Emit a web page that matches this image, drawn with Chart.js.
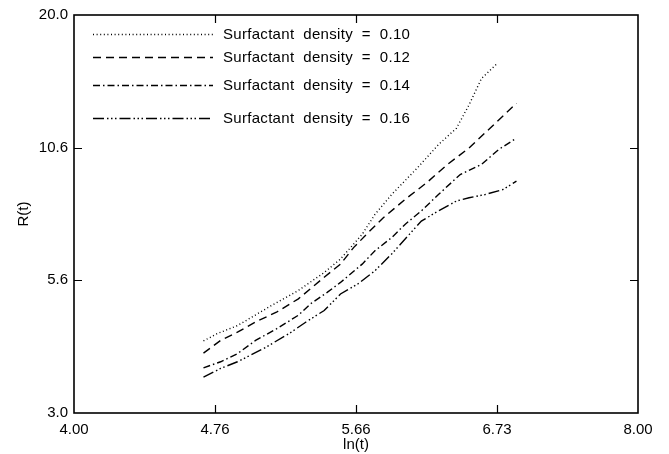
<!DOCTYPE html>
<html>
<head>
<meta charset="utf-8">
<script src="https://cdn.jsdelivr.net/npm/chart.js@4"></script>
<style>
  body { margin: 0; background: #fff; }
  #wrap { width: 669px; height: 454px; }
</style>
</head>
<body>
<div id="wrap"><canvas id="growthChart" width="669" height="454"></canvas></div>
<script>
// ln(t) values and R(t) values
const lnt10 = [4.69, 4.77, 4.89, 5.10, 5.27, 5.44, 5.55, 5.70, 5.79, 5.91, 6.10, 6.26, 6.40, 6.50, 6.60, 6.73];
const r10   = [4.23, 4.38, 4.55, 5.01, 5.38, 5.86, 6.25, 7.03, 7.73, 8.50, 9.65, 10.78, 11.66, 13.03, 14.78, 15.88];

const lnt12 = [4.69, 4.79, 4.89, 5.00, 5.13, 5.27, 5.44, 5.55, 5.64, 5.73, 5.85, 6.01, 6.17, 6.33, 6.50, 6.67, 6.89];
const r12   = [3.99, 4.24, 4.41, 4.63, 4.85, 5.17, 5.73, 6.10, 6.60, 7.03, 7.61, 8.31, 8.99, 9.81, 10.61, 11.66, 13.13];

const lnt14 = [4.69, 4.79, 4.89, 5.00, 5.13, 5.27, 5.35, 5.46, 5.55, 5.70, 5.79, 5.91, 6.01, 6.13, 6.26, 6.43, 6.60, 6.74, 6.89];
const r14   = [3.72, 3.83, 3.98, 4.24, 4.48, 4.78, 5.05, 5.33, 5.59, 6.10, 6.50, 6.92, 7.38, 7.86, 8.50, 9.35, 9.81, 10.53, 11.12];

const lnt16 = [4.69, 4.79, 4.89, 5.05, 5.21, 5.32, 5.44, 5.55, 5.67, 5.79, 5.91, 6.04, 6.13, 6.26, 6.40, 6.50, 6.63, 6.78, 6.89];
const r16   = [3.56, 3.71, 3.83, 4.08, 4.38, 4.63, 4.89, 5.29, 5.55, 5.91, 6.40, 7.03, 7.49, 7.86, 8.24, 8.37, 8.50, 8.71, 9.06];

const densities = ['0.10', '0.12', '0.14', '0.16'];
const xTicks = [4.00, 4.757, 5.657, 6.727, 8.00];
const yTicks = [3.0, 5.646, 10.627, 20.0];

const FONT = '"Liberation Sans", Arial, sans-serif';
Chart.defaults.font.family = FONT;
Chart.defaults.font.size = 15;
Chart.defaults.color = '#000';

function toPoints(xs, ys) {
  return xs.map((x, i) => ({ x: x, y: ys[i] }));
}

function makeSet(label, xs, ys, dash) {
  return {
    label: label,
    data: toPoints(xs, ys),
    borderColor: '#000',
    borderWidth: 1.4,
    borderDash: dash,
    pointRadius: 0,
    tension: 0,
    fill: false
  };
}

// frame with inward ticks on all four sides + the in-plot legend
const framePlugin = {
  id: 'frame',
  afterDraw(chart) {
    const ctx = chart.ctx;
    const a = chart.chartArea;
    const xs = chart.scales.x, ys = chart.scales.y;
    ctx.save();
    ctx.strokeStyle = '#000';
    ctx.lineWidth = 1.6;
    ctx.setLineDash([]);
    ctx.strokeRect(a.left, a.top, a.right - a.left, a.bottom - a.top);
    ctx.lineWidth = 1.2;
    ctx.beginPath();
    xTicks.slice(1, -1).forEach(v => {
      const px = Math.round(xs.getPixelForValue(v)) + 0.5;
      ctx.moveTo(px, a.bottom); ctx.lineTo(px, a.bottom - 8);
      ctx.moveTo(px, a.top); ctx.lineTo(px, a.top + 8);
    });
    yTicks.slice(1, -1).forEach(v => {
      const py = Math.round(ys.getPixelForValue(v)) + 0.5;
      ctx.moveTo(a.left, py); ctx.lineTo(a.left + 8, py);
      ctx.moveTo(a.right, py); ctx.lineTo(a.right - 8, py);
    });
    ctx.stroke();

    // legend
    const rows = [34, 57, 85, 118];
    ctx.font = '15px ' + FONT;
    ctx.letterSpacing = '0.3px';
    ctx.fillStyle = '#000';
    ctx.textBaseline = 'middle';
    chart.data.datasets.forEach((ds, i) => {
      ctx.lineWidth = ds.borderWidth;
      ctx.setLineDash(ds.borderDash);
      ctx.beginPath();
      ctx.moveTo(93, rows[i] + 0.5);
      ctx.lineTo(213, rows[i] + 0.5);
      ctx.stroke();
      ctx.setLineDash([]);
      ctx.fillText(ds.label, 223, rows[i] + 1);
    });
    ctx.restore();
  }
};

new Chart(document.getElementById('growthChart'), {
  type: 'line',
  data: {
    datasets: [
      makeSet('Surfactant  density  =  ' + densities[0], lnt10, r10, [1, 2.6]),
      makeSet('Surfactant  density  =  ' + densities[1], lnt12, r12, [8, 5]),
      makeSet('Surfactant  density  =  ' + densities[2], lnt14, r14, [7, 3, 1.5, 3]),
      makeSet('Surfactant  density  =  ' + densities[3], lnt16, r16, [11, 3, 1.5, 2.5, 1.5, 2.5, 1.5, 3])
    ]
  },
  options: {
    responsive: false,
    animation: false,
    layout: { padding: { top: 13, right: 31, left: 0, bottom: 0 } },
    plugins: {
      legend: { display: false },
      tooltip: { enabled: false }
    },
    scales: {
      x: {
        type: 'logarithmic',
        min: 4, max: 8,
        bounds: 'data',
        afterBuildTicks: s => { s.ticks = xTicks.map(v => ({ value: v })); },
        afterFit: s => { s.height = 41; },
        ticks: {
          autoSkip: false, maxRotation: 0, padding: 8,
          callback: v => Number(v).toFixed(2)
        },
        grid: { display: false, drawTicks: false },
        border: { display: false },
        title: { display: true, text: 'ln(t)', padding: { top: -4, bottom: 0 } }
      },
      y: {
        type: 'logarithmic',
        min: 3, max: 20,
        bounds: 'data',
        afterBuildTicks: s => { s.ticks = yTicks.map(v => ({ value: v })); },
        afterFit: s => { s.width = 74; },
        ticks: {
          autoSkip: false, padding: 6,
          callback: v => Number(v).toFixed(1)
        },
        grid: { display: false, drawTicks: false },
        border: { display: false },
        title: { display: true, text: 'R(t)', padding: { top: 15, bottom: 0 } }
      }
    }
  },
  plugins: [framePlugin]
});
</script>
</body>
</html>
